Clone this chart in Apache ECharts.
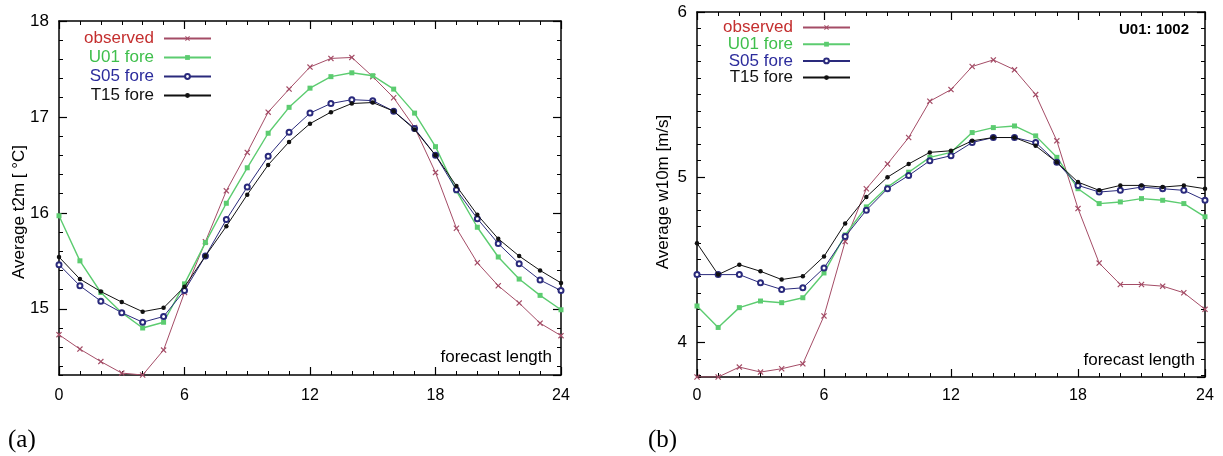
<!DOCTYPE html>
<html><head><meta charset="utf-8">
<script src="https://cdn.jsdelivr.net/npm/echarts@6/dist/echarts.min.js"></script>
<style>html,body{margin:0;padding:0;background:#fff}#c{width:1223px;height:456px}</style>
</head><body><div id="c"></div>
<script>
// ---- data ----
const hours = [0,1,2,3,4,5,6,7,8,9,10,11,12,13,14,15,16,17,18,19,20,21,22,23,24];
const seriesNames = ['observed','U01 fore','S05 fore','T15 fore'];
const t2mObserved = [14.73,14.58,14.45,14.33,14.31,14.57,15.17,15.70,16.23,16.63,17.05,17.29,17.52,17.61,17.62,17.42,17.20,16.89,16.42,15.84,15.48,15.24,15.06,14.85,14.72];
const t2mU01 = [15.97,15.50,15.17,14.96,14.80,14.86,15.26,15.69,16.10,16.47,16.83,17.10,17.30,17.42,17.46,17.43,17.29,17.04,16.69,16.23,15.85,15.54,15.31,15.14,14.99];
const t2mS05 = [15.46,15.24,15.08,14.96,14.86,14.92,15.19,15.55,15.93,16.27,16.59,16.84,17.04,17.14,17.18,17.17,17.06,16.88,16.60,16.24,15.94,15.68,15.47,15.30,15.19];
const t2mT15 = [15.54,15.31,15.18,15.07,14.97,15.01,15.23,15.55,15.86,16.19,16.50,16.74,16.93,17.05,17.14,17.15,17.06,16.87,16.60,16.28,15.98,15.73,15.55,15.40,15.27];
const w10mObserved = [3.79,3.79,3.85,3.82,3.84,3.87,4.16,4.61,4.93,5.08,5.24,5.46,5.53,5.67,5.71,5.65,5.50,5.22,4.81,4.48,4.35,4.35,4.34,4.30,4.20];
const w10mU01 = [4.22,4.09,4.21,4.25,4.24,4.27,4.42,4.65,4.82,4.94,5.03,5.12,5.15,5.27,5.30,5.31,5.25,5.12,4.93,4.84,4.85,4.87,4.86,4.84,4.76];
const w10mS05 = [4.41,4.41,4.41,4.36,4.32,4.33,4.45,4.64,4.80,4.93,5.01,5.10,5.13,5.21,5.24,5.24,5.21,5.09,4.95,4.91,4.92,4.94,4.93,4.92,4.86];
const w10mT15 = [4.60,4.41,4.47,4.43,4.38,4.40,4.52,4.72,4.88,5.00,5.08,5.15,5.16,5.22,5.24,5.24,5.19,5.09,4.97,4.92,4.95,4.95,4.94,4.95,4.93];
const t2mRange = [14.31, 18];
const w10mRange = [3.79, 6];
const xRange = [0, 24];

// ---- styles ----
const FONT = 'Liberation Sans, Arial, sans-serif';
const lineColors = ['#a44c66', '#5ccc70', '#2a2a7c', '#111111'];
const textColors = ['#c42f2f', '#3fbf4c', '#2c2c9c', '#111111'];
const symbols = ['path://M0,1.4L1.4,0L5,3.6L8.6,0L10,1.4L6.4,5L10,8.6L8.6,10L5,6.4L1.4,10L0,8.6L3.6,5Z', 'rect', 'emptyCircle', 'circle'];
const symbolSizes = [6, 5, 5, 4.5];

const chart = echarts.init(document.getElementById('c'), null, {renderer: 'canvas'});

function xAx(grid, pos, showLabel, margin) {
  return {
    type: 'value', gridIndex: grid, position: pos, min: xRange[0], max: xRange[1], interval: 6,
    axisLine: {show: true, onZero: false, lineStyle: {color: '#000', width: 1.5}},
    axisTick: {show: true, inside: true, length: 8, lineStyle: {color: '#000', width: 1.2}},
    minorTick: {show: true, splitNumber: 6, length: 4, lineStyle: {color: '#000', width: 1}},
    splitLine: {show: false}, minorSplitLine: {show: false},
    axisLabel: {show: showLabel, margin: margin, color: '#000', fontSize: 16, fontFamily: FONT}
  };
}
function yAx(grid, pos, range, step, major, showLabel) {
  return {
    type: 'value', gridIndex: grid, position: pos, min: range[0], max: range[1],
    minInterval: step, maxInterval: step, scale: true,
    axisLine: {show: major, onZero: false, lineStyle: {color: '#000', width: 1.5}},
    axisTick: {show: true, inside: true, length: major ? 8 : 4, lineStyle: {color: '#000', width: major ? 1.2 : 1}},
    splitLine: {show: false},
    axisLabel: {show: showLabel, showMinLabel: false, margin: 10, color: '#000', fontSize: 17, fontFamily: FONT}
  };
}

const leftData = [t2mObserved, t2mU01, t2mS05, t2mT15];
const rightData = [w10mObserved, w10mU01, w10mS05, w10mT15];
const series = [];
[[leftData, 0, 0], [rightData, 2, 4]].forEach(([set, xi, yi]) => {
  set.forEach((vals, k) => {
    series.push({
      name: seriesNames[k], type: 'line', xAxisIndex: xi, yAxisIndex: yi,
      data: hours.map((h, i) => [h, vals[i]]),
      symbol: symbols[k], symbolSize: symbolSizes[k], showSymbol: true,
      lineStyle: {color: lineColors[k], width: k === 1 ? 1.4 : 1},
      itemStyle: {color: lineColors[k], borderColor: lineColors[k], borderWidth: k === 2 ? 1 : 0},
      z: 2 + k
    });
  });
});

function legendCfg(right, top, gap) {
  return {
    orient: 'vertical', right: right, top: top, align: 'right', padding: 0,
    itemWidth: 47, itemHeight: 6, itemGap: gap, selectedMode: false,
    textStyle: {fontSize: 17, lineHeight: 17, fontFamily: FONT, padding: [0, 5, 0, 0]},
    data: seriesNames.map((n, k) => ({name: n, textStyle: {color: textColors[k]}}))
  };
}

const option = {
  animation: false,
  backgroundColor: '#fff',
  grid: [
    {left: 59, top: 21, width: 502, height: 354},
    {left: 697, top: 12, width: 508, height: 365}
  ],
  xAxis: [xAx(0, 'bottom', true, 13), xAx(0, 'top', false, 8), xAx(1, 'bottom', true, 11), xAx(1, 'top', false, 8)],
  yAxis: [
    yAx(0, 'left', t2mRange, 1, true, true), yAx(0, 'left', t2mRange, 0.2, false, false),
    yAx(0, 'right', t2mRange, 1, true, false), yAx(0, 'right', t2mRange, 0.2, false, false),
    yAx(1, 'left', w10mRange, 1, true, true), yAx(1, 'left', w10mRange, 0.1, false, false),
    yAx(1, 'right', w10mRange, 1, true, false), yAx(1, 'right', w10mRange, 0.1, false, false)
  ],
  legend: [legendCfg(1011, 30, 2), legendCfg(372, 19, -0.3)],
  series: series,
  graphic: [
    {type: 'text', x: 19, y: 212, rotation: Math.PI / 2, style: {text: 'Average t2m [ °C]', font: '17px ' + FONT, fill: '#000', align: 'center', verticalAlign: 'middle'}},
    {type: 'text', x: 663, y: 192, rotation: Math.PI / 2, style: {text: 'Average w10m [m/s]', font: '17px ' + FONT, fill: '#000', align: 'center', verticalAlign: 'middle'}},
    {type: 'text', x: 552, y: 357, style: {text: 'forecast length', font: '17px ' + FONT, fill: '#000', align: 'right', verticalAlign: 'middle'}},
    {type: 'text', x: 1195, y: 360, style: {text: 'forecast length', font: '17px ' + FONT, fill: '#000', align: 'right', verticalAlign: 'middle'}},
    {type: 'text', x: 1189, y: 30, style: {text: 'U01: 1002', font: 'bold 15px ' + FONT, fill: '#000', align: 'right', verticalAlign: 'middle'}},
    {type: 'text', x: 8, y: 440, style: {text: '(a)', font: '25px Liberation Serif, Times New Roman, serif', fill: '#000', align: 'left', verticalAlign: 'middle'}},
    {type: 'text', x: 648, y: 440, style: {text: '(b)', font: '25px Liberation Serif, Times New Roman, serif', fill: '#000', align: 'left', verticalAlign: 'middle'}}
  ]
};
chart.setOption(option);
</script>
</body></html>
